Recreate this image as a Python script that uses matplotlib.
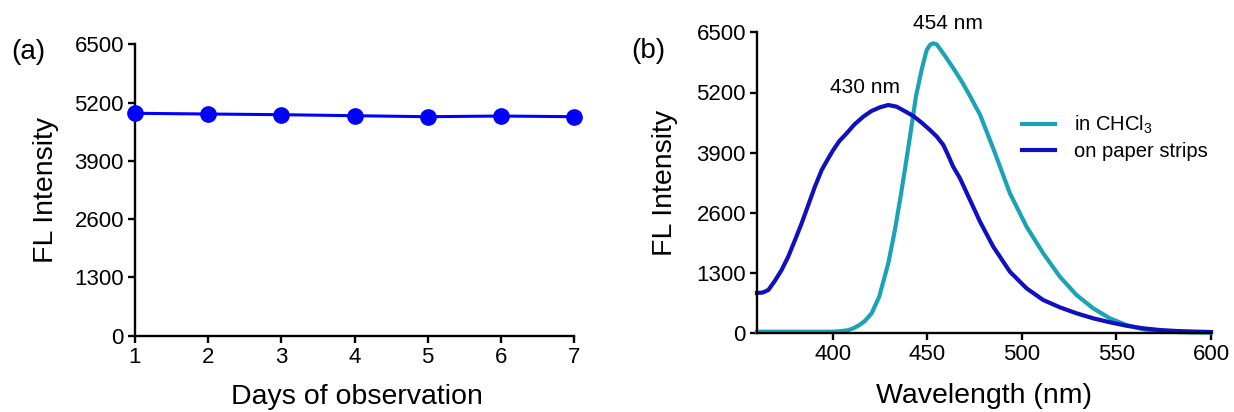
import matplotlib
matplotlib.use("Agg")
import matplotlib.pyplot as plt

plt.rcParams['font.family'] = ['Liberation Sans', 'DejaVu Sans']
plt.rcParams['mathtext.fontset'] = 'custom'
plt.rcParams['mathtext.rm'] = 'Liberation Sans'
plt.rcParams['mathtext.it'] = 'Liberation Sans'

# ---- Panel (a) data ----
days = [1, 2, 3, 4, 5, 6, 7]
fl_days = [4961, 4945, 4930, 4907, 4885, 4900, 4885]

# ---- Panel (b) data ----
wl_chcl3 = [360, 370, 380, 390, 400, 404, 408, 411, 414, 417, 420.6, 424.6, 429.4,
            432.9, 435.9, 438.7, 441.4, 444.0, 447.0, 449.7, 451.5, 453.2, 455,
            459.4, 463.5, 468.2, 472.5, 477.9, 484.9, 493.7, 502.5, 511.3, 520.1,
            528.9, 537.7, 546.5, 555.3, 564.1, 572.9, 581.7, 590, 600]
fl_chcl3 = [35, 35, 35, 33, 35, 45, 65, 110, 175, 265, 432, 790, 1512,
            2231, 2950, 3671, 4390, 5110, 5686, 6118, 6230, 6262, 6240,
            5990, 5740, 5440, 5130, 4720, 3990, 3023, 2302, 1728, 1222,
            827, 540, 324, 179, 86, 50, 28, 18, 13]

wl_paper = [360, 363, 366, 369.5, 373, 376.5, 380.1, 383.6, 387.1, 390.6, 394.2,
            397.7, 400.3, 403.5, 407.4, 411.5, 416.2, 420.5, 425, 429.4, 433.8,
            438, 442.6, 447, 451.4, 455, 458.5, 461, 463.7, 467.3, 472.6, 477.9,
            484.9, 493.7, 502.5, 511.3, 520.1, 528.9, 537.7, 546.5, 555.3, 564.1,
            572.9, 581.7, 590, 600]
fl_paper = [870, 880, 935, 1136, 1367, 1654, 2015, 2375, 2771, 3166, 3526,
            3779, 3958, 4150, 4319, 4510, 4678, 4800, 4880, 4930, 4894,
            4800, 4693, 4550, 4391, 4250, 4067, 3850, 3598, 3347, 2879, 2410,
            1870, 1330, 971, 719, 561, 432, 324, 238, 164, 108,
            71, 50, 38, 28]

yticks = [0, 1300, 2600, 3900, 5200, 6500]
wl_ticks = [400, 450, 500, 550, 600]
series_labels = [r'in CHCl$_3$', 'on paper strips']
peak_labels = ['454 nm', '430 nm']

W, H = 1234, 412
fig = plt.figure(figsize=(W / 100, H / 100), dpi=100)

def px_axes(l, r, t, b):
    return fig.add_axes([l / W, 1 - b / H, (r - l) / W, (b - t) / H])

def style(ax):
    for s in ['top', 'right']:
        ax.spines[s].set_visible(False)
    for s in ['left', 'bottom']:
        ax.spines[s].set_linewidth(1.7)
    ax.tick_params(direction='out', length=5, width=1.7, labelsize=16, pad=3)

# Panel (a)
axa = px_axes(135, 574, 44.3, 335.7)
axa.plot(days, fl_days, color='#0000ff', lw=2.2, marker='o', ms=11, clip_on=False, zorder=3)
axa.set_xlim(1, 7)
axa.set_ylim(0, 6500)
axa.set_xticks(days)
axa.set_yticks(yticks)
style(axa)
axa.set_xlabel('Days of observation', fontsize=20.5)
axa.set_ylabel('FL Intensity', fontsize=20.5)
axa.xaxis.set_label_coords(0.506, -0.165)
axa.yaxis.set_label_coords(-0.173, 0.5)
axa.xaxis.label.set_va('top')

# Panel (b)
axb = px_axes(757, 1211, 32.3, 333.3)
axb.plot(wl_chcl3, fl_chcl3, color='#1ca2b6', lw=3.0, label=series_labels[0], clip_on=False)
axb.plot(wl_paper, fl_paper, color='#1010bf', lw=3.0, label=series_labels[1], clip_on=False)
axb.set_xlim(360, 600)
axb.set_ylim(0, 6500)
axb.set_xticks(wl_ticks)
axb.set_yticks(yticks)
style(axb)
axb.set_xlabel('Wavelength (nm)', fontsize=20.5)
axb.set_ylabel('FL Intensity', fontsize=20.5)
axb.xaxis.set_label_coords(0.5, -0.165)
axb.yaxis.set_label_coords(-0.174, 0.5)
axb.xaxis.label.set_va('top')

axb.text(460.9, 6680, peak_labels[0], fontsize=15, ha='center', va='center', clip_on=False)
axb.text(417, 5318, peak_labels[1], fontsize=15, ha='center', va='center', clip_on=False)

axb.legend(loc='upper left', bbox_to_anchor=(1022 / W, 1 - 114 / H),
           bbox_transform=fig.transFigure, frameon=False, fontsize=14.5,
           handlelength=1.65, handletextpad=0.95, borderpad=0, borderaxespad=0,
           labelspacing=0.3)

fig.text(28 / W, 1 - 52 / H, '(a)', fontsize=20, ha='center', va='center')
fig.text(648 / W, 1 - 51 / H, '(b)', fontsize=20, ha='center', va='center')

fig.savefig('out.png', dpi=100)
